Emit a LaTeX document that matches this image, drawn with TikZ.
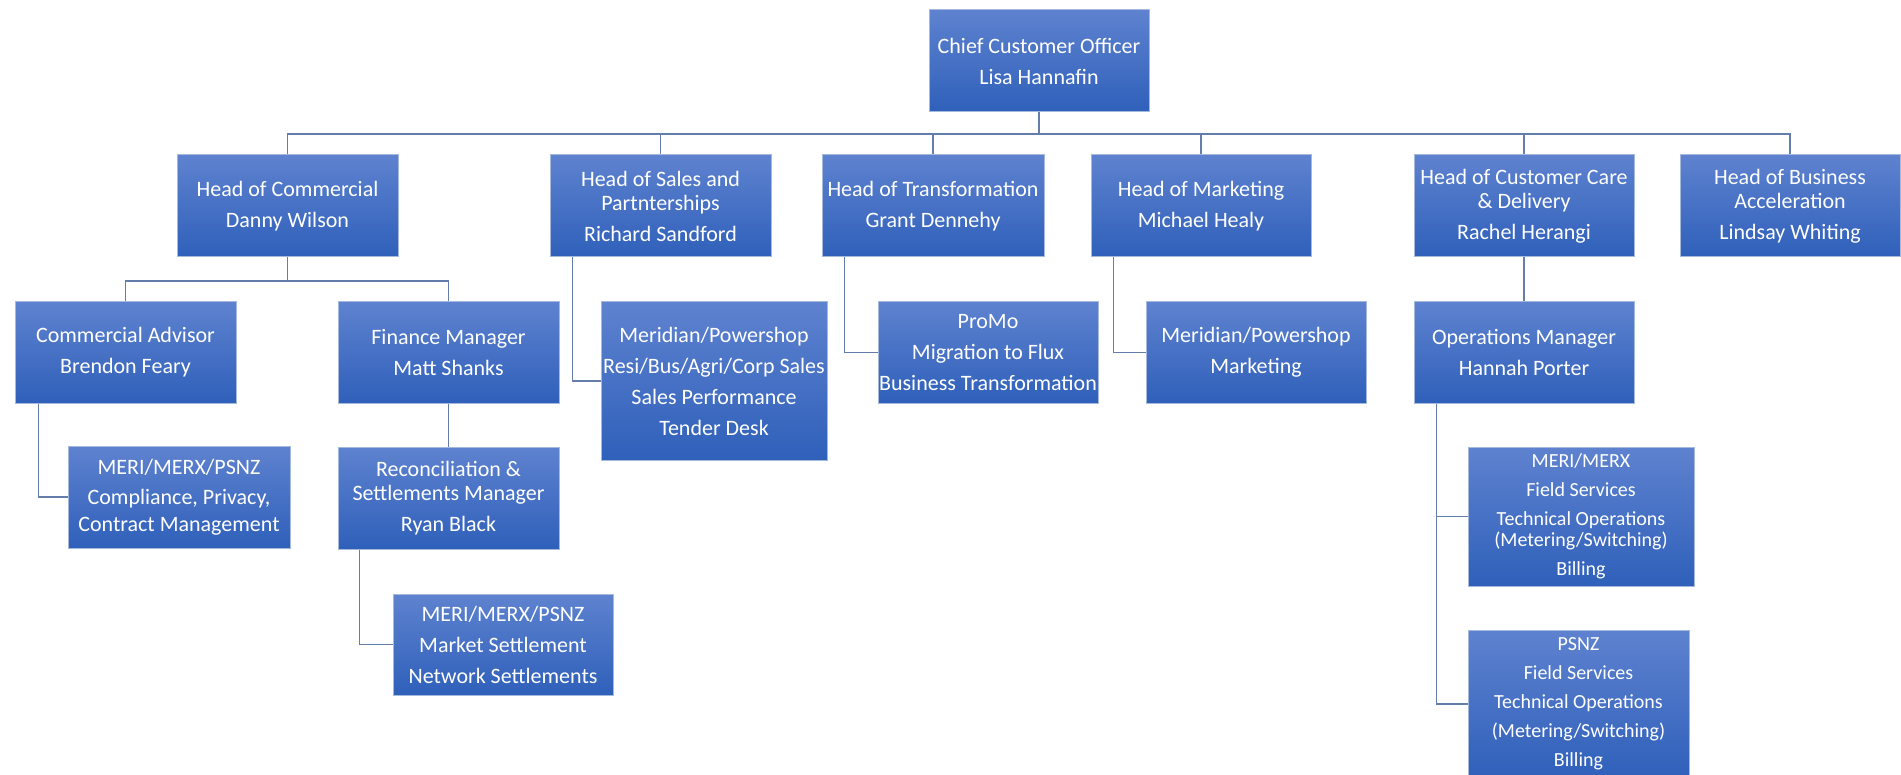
\documentclass[tikz,border=0pt]{standalone}
\usepackage{fontspec}
\setmainfont{Carlito}
\definecolor{boxtop}{RGB}{94,130,207}
\definecolor{boxbot}{RGB}{47,96,186}
\definecolor{boxedge}{RGB}{165,185,220}
\definecolor{conncol}{RGB}{100,125,170}
\tikzset{
  box/.style={draw=boxedge, line width=0.5pt, top color=boxtop, bottom color=boxbot,
    inner sep=0pt, text=white, align=center, anchor=center, font=\fontsize{11}{12}\selectfont},
  smallbox/.style={box, font=\fontsize{10}{10.5}\selectfont},
  conn/.style={draw=conncol, line width=0.75pt},
  area/.style args={#1/#2/#3/#4}{minimum width={(#3-#1)*0.5pt}, minimum height={(#4-#2)*0.5pt},
    at={({(#1+#3)/2},{(#2+#4)/2})}},
}
\begin{document}
\begin{tikzpicture}[x=0.5pt,y=-0.5pt]
\useasboundingbox (0,0) rectangle (1901,775);
\clip (0,0) rectangle (1901,775);
\fill[white] (0,0) rectangle (1901,775);

% top
\node[box, area=929/10/1149/112] (cco) {Chief Customer Officer\\[3.5pt]Lisa Hannafin};

% heads
\node[box, area=177/155/398/257] (hc) {Head of Commercial\\[3.5pt]Danny Wilson};
\node[box, area=550/155/771/257] (hs) {Head of Sales and\\Partnterships\\[3.5pt]Richard Sandford};
\node[box, area=822/155/1044/257] (ht) {Head of Transformation\\[3.5pt]Grant Dennehy};
\node[box, area=1091/155/1311/257] (hm) {Head of Marketing\\[3.5pt]Michael Healy};
\node[box, area=1414/155/1634/257] (hcc) {Head of Customer Care\\\& Delivery\\[3.5pt]Rachel Herangi};
\node[box, area=1680/155/1900/257] (hba) {Head of Business\\Acceleration\\[3.5pt]Lindsay Whiting};

% second level
\node[box, area=15/302/236/403] (ca) {Commercial Advisor\\[3.5pt]Brendon Feary};
\node[box, area=338/302/559/403] (fm) {Finance Manager\\[3.5pt]Matt Shanks};
\node[box, area=601/302/827/460] (sales) {Meridian/Powershop\\[3.5pt]Resi/Bus/Agri/Corp Sales\\[3.5pt]Sales Performance\\[3.5pt]Tender Desk};
\node[box, area=878/302/1098/403] (trans) {ProMo\\[3.5pt]Migration to Flux\\[3.5pt]Business Transformation};
\node[box, area=1146/302/1366/403] (mkt) {Meridian/Powershop\\[3.5pt]Marketing};
\node[box, area=1414/302/1634/403] (ops) {Operations Manager\\[3.5pt]Hannah Porter};

% third level
\node[box, area=68/446/290/548] (comp) {MERI/MERX/PSNZ\\[3pt]Compliance, Privacy,\\[1.5pt]Contract Management};
\node[box, area=338/447/559/549] (recon) {Reconciliation \&\\Settlements Manager\\[3.5pt]Ryan Black};
\node[box, area=393/594/613/695] (settle) {MERI/MERX/PSNZ\\[3.5pt]Market Settlement\\[3.5pt]Network Settlements};
\node[smallbox, area=1468/447/1694/586] (fsm) {MERI/MERX\\[4pt]Field Services\\[4pt]Technical Operations\\(Metering/Switching)\\[4pt]Billing};
\node[smallbox, area=1468/630/1689/778] (fsp) {PSNZ\\[4pt]Field Services\\[4pt]Technical Operations\\[4pt](Metering/Switching)\\[4pt]Billing};

% connectors
\coordinate (topbar) at (0,134);
\coordinate (cbar) at (0,281);
\foreach \h in {hc,hs,ht,hm,hcc,hba}
  \draw[conn] (cco.south) |- (\h.north |- topbar) -- (\h.north);
\draw[conn] (hc.south) |- (ca.north |- cbar) -- (ca.north);
\draw[conn] (hc.south) |- (fm.north |- cbar) -- (fm.north);
\draw[conn] (fm.south) -- (recon.north);
\draw[conn] (hcc.south) -- (ops.north);
\draw[conn] ([xshift=12pt]ca.south west) |- (comp.west);
\draw[conn] ([xshift=11pt]recon.south west) |- (settle.west);
\draw[conn] ([xshift=11.5pt]hs.south west) |- (sales.west);
\draw[conn] ([xshift=11.5pt]ht.south west) |- (trans.west);
\draw[conn] ([xshift=11.5pt]hm.south west) |- (mkt.west);
\draw[conn] ([xshift=11.5pt]ops.south west) |- (fsm.west);
\draw[conn] ([xshift=11.5pt]ops.south west) |- (fsp.west);
\end{tikzpicture}
\end{document}
